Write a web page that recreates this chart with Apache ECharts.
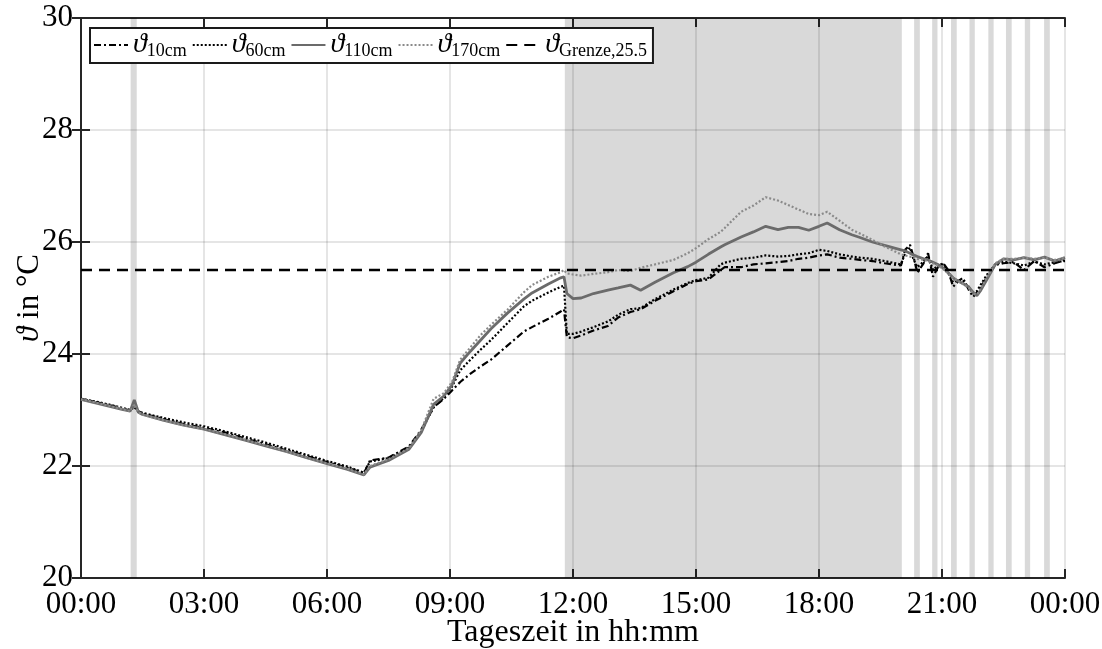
<!DOCTYPE html>
<html>
<head>
<meta charset="utf-8">
<script src="https://cdn.jsdelivr.net/npm/echarts@6/dist/echarts.min.js"></script>
<style>html,body{margin:0;padding:0;background:#fff}#chart{width:1102px;height:649px}</style>
</head>
<body>
<div id="chart"></div>
<script>
// Zeitachse in Stunden
const hours = [
  0, 0.5, 1.0, 1.2, 1.3, 1.4, 1.5, 2.0, 2.5, 3.0, 3.5, 4.0, 4.5, 5.0, 5.5, 6.0, 6.5, 6.9, 7.05,
  7.5, 8.0, 8.3, 8.6, 8.85, 9.05, 9.25, 9.5, 9.75, 10.0, 10.4, 10.8, 11.0, 11.4, 11.7, 11.78, 11.85,
  12.0, 12.2, 12.5, 12.85, 13.1, 13.4, 13.65, 14.0, 14.45, 14.8, 15.0, 15.3, 15.6, 15.7, 16.1, 16.4, 16.7, 17.0, 17.25, 17.5, 17.75, 18.0, 18.2, 18.5, 18.8, 19.0, 19.3, 19.6, 20.0,
  20.1, 20.22, 20.3, 20.4, 20.55, 20.66, 20.78, 20.9, 21.02, 21.15, 21.27, 21.4, 21.51, 21.65, 21.76, 21.85, 21.93, 22.1, 22.3, 22.5, 22.75, 23.0, 23.25, 23.5, 23.75, 24.0
];
// Temperaturen je Messhoehe
const t10 = [
  23.2, 23.12, 23.03, 22.99, 23.08, 22.98, 22.94, 22.84, 22.75, 22.68, 22.6, 22.49, 22.39, 22.28, 22.18, 22.07, 21.97, 21.87, 22.1,
  22.15, 22.35, 22.65, 23.05, 23.2, 23.35, 23.5, 23.65, 23.78, 23.9, 24.15, 24.4, 24.48, 24.63, 24.76, 24.8, 24.3,
  24.28, 24.33, 24.42, 24.5, 24.65, 24.75, 24.8, 24.95, 25.12, 25.25, 25.3, 25.33, 25.5, 25.55, 25.55, 25.6, 25.62, 25.64, 25.66, 25.7, 25.72, 25.76, 25.78, 25.72, 25.7, 25.68, 25.66, 25.62, 25.58,
  25.86, 25.95, 25.75, 25.45, 25.62, 25.8, 25.38, 25.55, 25.63, 25.5, 25.2, 25.3, 25.36, 25.15, 25.02, 25.1, 25.18, 25.38, 25.59, 25.62, 25.64, 25.5, 25.66, 25.55, 25.62, 25.68
];
const t60 = [
  23.2, 23.13, 23.04, 23.0, 23.05, 22.97, 22.95, 22.86, 22.78, 22.71, 22.62, 22.52, 22.42, 22.31, 22.2, 22.09, 21.99, 21.88, 22.08,
  22.14, 22.33, 22.62, 23.05, 23.22, 23.42, 23.71, 23.9, 24.08, 24.25, 24.55, 24.85, 24.95, 25.1, 25.2, 25.22, 24.36,
  24.36, 24.4, 24.48, 24.58, 24.7, 24.8, 24.82, 24.98, 25.15, 25.27, 25.32, 25.36, 25.6, 25.63, 25.7, 25.72, 25.76, 25.74, 25.75, 25.78, 25.8, 25.86, 25.84, 25.78, 25.74, 25.72, 25.7, 25.66, 25.6,
  25.8, 25.9, 25.7, 25.55, 25.65, 25.75, 25.5, 25.58, 25.6, 25.45, 25.28, 25.32, 25.3, 25.2, 25.08, 25.12, 25.22, 25.42, 25.6, 25.65, 25.62, 25.58, 25.65, 25.6, 25.64, 25.66
];
const t110 = [
  23.19, 23.1, 23.01, 22.98, 23.18, 22.96, 22.92, 22.82, 22.73, 22.66, 22.56, 22.46, 22.36, 22.26, 22.15, 22.04, 21.94, 21.84, 21.98,
  22.1, 22.3, 22.6, 23.1, 23.25, 23.45, 23.84, 24.05, 24.25, 24.45, 24.73, 24.98, 25.09, 25.25, 25.36, 25.38, 25.08,
  24.99, 25.0, 25.08, 25.14, 25.18, 25.23, 25.14, 25.28, 25.45, 25.56, 25.64, 25.78, 25.91, 25.95, 26.09, 26.18, 26.28, 26.22, 26.26, 26.26, 26.21, 26.28, 26.34, 26.22, 26.13, 26.08, 26.0, 25.94, 25.86,
  25.84, 25.8, 25.77, 25.74, 25.7, 25.68, 25.64, 25.6, 25.54, 25.45, 25.36, 25.3, 25.26, 25.2, 25.1, 25.04, 25.12, 25.34, 25.6, 25.7, 25.68, 25.72, 25.68, 25.73, 25.66, 25.72
];
const t170 = [
  23.19, 23.11, 23.02, 22.98, 23.1, 22.96, 22.92, 22.82, 22.73, 22.66, 22.57, 22.47, 22.37, 22.26, 22.15, 22.05, 21.95, 21.85, 22.0,
  22.12, 22.32, 22.64, 23.2, 23.3, 23.5, 23.9, 24.12, 24.34, 24.52, 24.79, 25.1, 25.23, 25.38, 25.46, 25.5, 25.44,
  25.42, 25.4, 25.43, 25.46, 25.5, 25.48, 25.54, 25.6, 25.68, 25.8, 25.89, 26.05, 26.18, 26.25, 26.54, 26.65, 26.8, 26.74, 26.66, 26.58, 26.5, 26.48, 26.54, 26.38, 26.22, 26.15, 26.04, 25.92, 25.78,
  25.76, 25.74, 25.73, 25.7, 25.68, 25.66, 25.62, 25.58, 25.52, 25.44, 25.35, 25.3, 25.25, 25.18, 25.08, 25.06, 25.15, 25.38, 25.62, 25.7, 25.7, 25.72, 25.7, 25.72, 25.68, 25.72
];
// Grenzwert
const limitHours = [0, 24];
const limitValues = [25.5, 25.5];
// grau hinterlegte Zeitraeume
const bandStart = [1.21, 11.8, 20.32, 20.76, 21.22, 21.67, 22.13, 22.56, 23.02, 23.49];
const bandEnd = [1.36, 20.02, 20.46, 20.89, 21.36, 21.8, 22.26, 22.7, 23.15, 23.63];
// Achsenbeschriftung
const xTickLabels = ['00:00', '03:00', '06:00', '09:00', '12:00', '15:00', '18:00', '21:00', '00:00'];

const FONT = '"Liberation Serif", "DejaVu Serif", serif';
const axisColor = '#262626';

let myChart = echarts.init(document.getElementById('chart'));

function pairs(xs, ys) {
    return xs.map((x, i) => [x, ys[i]]);
}

let bands = [];
for (let i = 0; i < bandStart.length; i++) {
    bands.push([{ xAxis: bandStart[i] }, { xAxis: bandEnd[i] }]);
}

let frameAxis = {
    axisLine: { show: true, lineStyle: { color: axisColor, width: 2 } },
    axisTick: { show: true, inside: true, length: 9, lineStyle: { color: axisColor, width: 2 } }
};

var option = {
    animation: false,
    backgroundColor: '#fff',
    grid: { left: 81, right: 37, top: 18, bottom: 71, outerBoundsMode: 'none', containLabel: false },
    legend: {
        left: 90,
        top: 28,
        orient: 'horizontal',
        padding: [3, 6, 3, 3],
        itemGap: 5,
        itemWidth: 34,
        itemHeight: 14,
        backgroundColor: '#fff',
        borderColor: '#1a1a1a',
        borderWidth: 2,
        borderRadius: 0,
        itemStyle: { opacity: 0 },
        data: ['10cm', '60cm', '110cm', '170cm', 'Grenze,25.5'],
        formatter: function (name) {
            return '{th|ϑ}{sub|' + name + '}';
        },
        textStyle: {
            color: '#000',
            rich: {
                th: { fontFamily: FONT, fontStyle: 'italic', fontSize: 28, lineHeight: 30 },
                sub: { fontFamily: FONT, fontSize: 18, verticalAlign: 'bottom', lineHeight: 16 }
            }
        }
    },
    xAxis: [
        Object.assign({
            type: 'value', min: 0, max: 24, interval: 3, position: 'bottom',
            name: 'Tageszeit in hh:mm', nameLocation: 'middle', nameGap: 39, nameMoveOverlap: false,
            nameTextStyle: { fontFamily: FONT, fontSize: 32, color: '#000' },
            axisLabel: {
                formatter: function (v) { return xTickLabels[Math.round(v / 3)]; },
                fontFamily: FONT, fontSize: 31, color: '#000', margin: 11
            },
            splitLine: { show: true, lineStyle: { color: 'rgba(0,0,0,0.1)', width: 2 } }
        }, frameAxis),
        Object.assign({
            type: 'value', min: 0, max: 24, interval: 3, position: 'top',
            axisLabel: { show: false }, splitLine: { show: false }
        }, frameAxis)
    ],
    yAxis: [
        Object.assign({
            type: 'value', min: 20, max: 30, interval: 2, position: 'left',
            name: '{i|ϑ} in °C', nameLocation: 'middle', nameGap: 36, nameMoveOverlap: false,
            nameTextStyle: {
                fontFamily: FONT, fontSize: 31, color: '#000',
                rich: { i: { fontFamily: FONT, fontStyle: 'italic', fontSize: 31, color: '#000' } }
            },
            axisLabel: { fontFamily: FONT, fontSize: 31, color: '#000', margin: 8 },
            splitLine: { show: true, lineStyle: { color: 'rgba(0,0,0,0.1)', width: 2 } }
        }, frameAxis),
        Object.assign({
            type: 'value', min: 20, max: 30, interval: 2, position: 'right',
            axisLabel: { show: false }, splitLine: { show: false }
        }, frameAxis)
    ],
    series: [
        {
            name: 'Bereiche',
            type: 'line',
            data: [],
            silent: true,
            markArea: {
                silent: true,
                itemStyle: { color: 'rgba(0,0,0,0.15)' },
                data: bands
            }
        },
        {
            name: '10cm', type: 'line', symbol: 'none', color: '#000', data: pairs(hours, t10),
            lineStyle: { color: '#000', width: 2.2, type: [7, 3, 2, 3] }
        },
        {
            name: '60cm', type: 'line', symbol: 'none', color: '#000', data: pairs(hours, t60),
            lineStyle: { color: '#000', width: 2.2, type: [2, 2] }
        },
        {
            name: '110cm', type: 'line', symbol: 'none', color: '#6b6b6b', data: pairs(hours, t110),
            lineStyle: { color: '#6b6b6b', width: 2.8, type: 'solid' }
        },
        {
            name: '170cm', type: 'line', symbol: 'none', color: '#8a8a8a', data: pairs(hours, t170),
            lineStyle: { color: '#8a8a8a', width: 2.2, type: [2, 2] }
        },
        {
            name: 'Grenze,25.5', type: 'line', symbol: 'none', color: '#000', data: pairs(limitHours, limitValues),
            lineStyle: { color: '#000', width: 2.4, type: [11, 7] }
        }
    ]
};

myChart.setOption(option);
</script>
</body>
</html>
